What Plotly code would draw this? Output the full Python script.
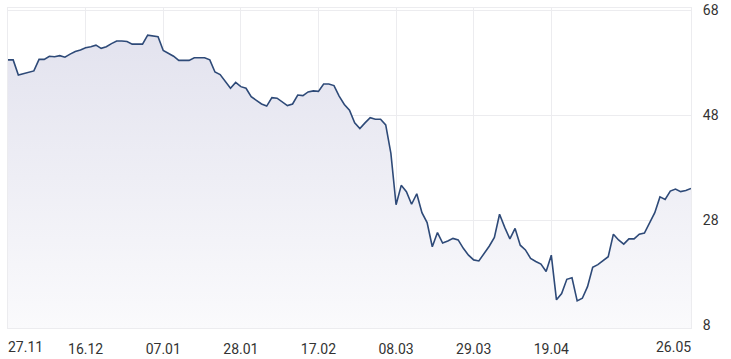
import plotly.graph_objects as go

values = [
    58.5, 58.5, 55.6, 55.9, 56.1, 56.4, 58.6, 58.6, 59.2, 59.1,
    59.3, 59.0, 59.6, 60.1, 60.4, 60.8, 61.0, 61.3, 60.7, 61.0,
    61.6, 62.1, 62.1, 62.0, 61.5, 61.5, 61.5, 63.2, 63.0, 62.9,
    60.3, 59.8, 59.2, 58.4, 58.4, 58.4, 58.9, 58.9, 58.9, 58.5,
    56.2, 55.7, 54.4, 53.1, 54.2, 53.4, 53.1, 51.5, 50.8, 50.1,
    49.7, 51.3, 51.2, 50.5, 49.8, 50.1, 51.8, 51.7, 52.4, 52.6,
    52.5, 53.9, 53.9, 53.6, 51.6, 50.0, 48.9, 46.5, 45.4, 46.5,
    47.5, 47.2, 47.2, 46.1, 40.7, 30.9, 34.6, 33.4, 31.0, 33.0,
    29.4, 27.5, 22.9, 25.6, 23.6, 24.0, 24.5, 24.2, 22.6, 21.3,
    20.4, 20.2, 21.5, 23.0, 24.7, 29.1, 26.6, 24.4, 26.4, 23.2,
    22.3, 20.7, 20.1, 19.6, 18.2, 21.3, 12.8, 14.0, 16.7, 17.0,
    12.6, 13.1, 15.3, 19.0, 19.5, 20.2, 21.0, 25.3, 24.2, 23.4,
    24.4, 24.4, 25.3, 25.5, 27.6, 29.4, 32.4, 31.9, 33.5, 33.9,
    33.4, 33.6, 34.0,
]
x_index = list(range(len(values)))

tick_index = [15, 30, 45, 60, 75, 90, 105]
tick_labels = ["16.12", "07.01", "28.01", "17.02", "08.03", "29.03", "19.04"]
first_label = "27.11"
last_label = "26.05"

y_ticks = [8, 28, 48, 68]
y_range = [7.43, 68.38]

LINE = "#2e4a78"
GRID = "#ececef"
TEXT = "#333333"
FONT = "Roboto"

fig = go.Figure()
fig.add_trace(go.Scatter(
    x=x_index, y=values, mode="lines",
    line=dict(color=LINE, width=1.6),
    fill="tozeroy",
    fillgradient=dict(type="vertical", start=y_range[0], stop=65,
                      colorscale=[[0, "rgba(250,250,252,1)"], [1, "rgba(226,226,238,1)"]]),
    hoverinfo="skip", showlegend=False,
))

fig.update_layout(
    width=731, height=359,
    margin=dict(l=8, r=40, t=8, b=31),
    paper_bgcolor="white", plot_bgcolor="white",
    font=dict(family=FONT, size=14, color=TEXT),
    xaxis=dict(
        range=[0, len(values) - 1], tickmode="array",
        tickvals=tick_index, ticktext=tick_labels,
        showgrid=True, gridcolor=GRID, gridwidth=1,
        showline=True, linecolor=GRID, mirror=True,
        zeroline=False, ticks="", ticklabelstandoff=8, automargin=False,
    ),
    yaxis=dict(
        range=y_range, side="right", tickmode="array", tickvals=y_ticks,
        showgrid=True, gridcolor=GRID, gridwidth=1,
        showline=True, linecolor=GRID, mirror=True,
        zeroline=False, ticks="", ticklabelstandoff=8, automargin=False,
    ),
    annotations=[
        dict(x=x_index[0], y=0, xref="x", yref="paper", text=first_label,
             showarrow=False, xanchor="left", yanchor="top", yshift=-9, xshift=-2,
             font=dict(family=FONT, size=14, color=TEXT)),
        dict(x=x_index[-1], y=0, xref="x", yref="paper", text=last_label,
             showarrow=False, xanchor="right", yanchor="top", yshift=-9, xshift=2,
             font=dict(family=FONT, size=14, color=TEXT)),
    ],
)

fig.write_html("out.html")
